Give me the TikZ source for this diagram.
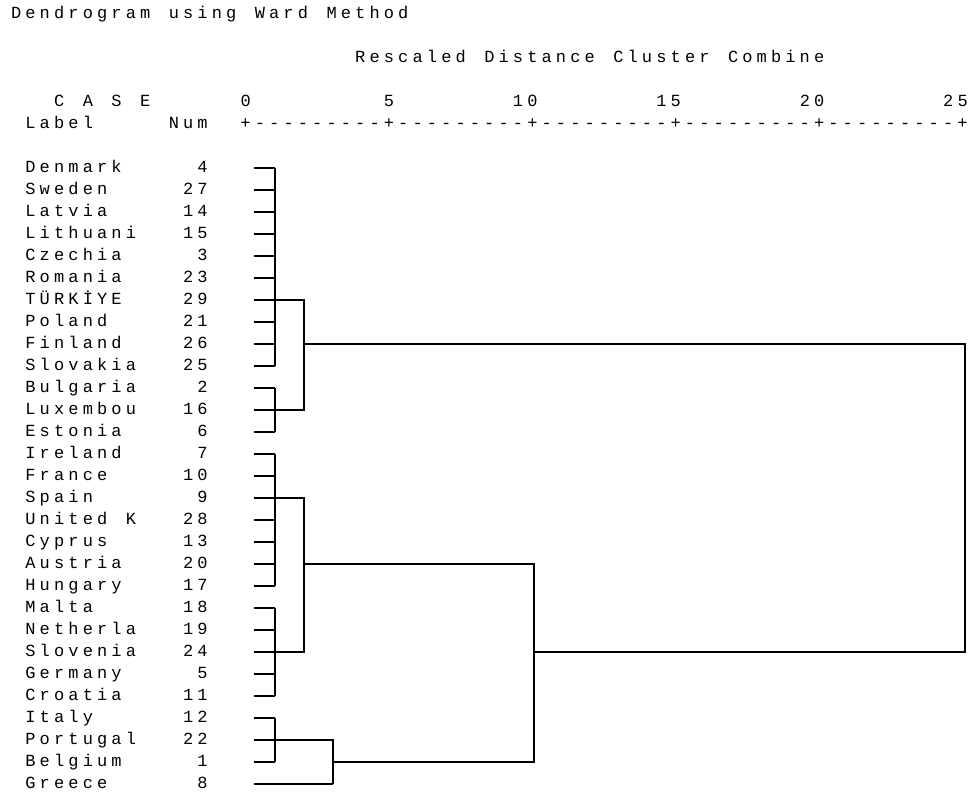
\documentclass[tikz,border=0pt]{standalone}
\usepackage{fontspec}
\newfontfamily\spssfont{Liberation Mono}
\makeatletter
\def\gt@end{\gt@end}
\newcommand\gtxt[1]{\gt@loop#1\gt@end}
\def\gt@loop#1{\ifx#1\gt@end\else\makebox[14.34pt][c]{#1}\expandafter\gt@loop\fi}
\makeatother
\tikzset{
  txt/.style={inner sep=0pt, outer sep=0pt, font=\spssfont\fontsize{17}{20}\selectfont},
  tree/.style={line width=1.1pt, black}
}
\begin{document}
\begin{tikzpicture}[x=1pt,y=-1pt]
\useasboundingbox (0,0) rectangle (976,798);
\fill[white] (0,0) rectangle (976,798);
\def\xo{9}
\def\cw{14.34}
% headers
\node[txt, anchor=base west] (title) at ({\xo+0*\cw},18.7) {\gtxt{Dendrogram~using~Ward~Method}};
\node[txt, anchor=base west] (resc) at ({\xo+24*\cw},62.7) {\gtxt{Rescaled~Distance~Cluster~Combine}};
\node[txt, anchor=base west] (case) at ({\xo+3*\cw},106.7) {\gtxt{C~A~S~E}};
\node[txt, anchor=base west] (t0) at ({\xo+16*\cw},106.7) {\gtxt{0}};
\node[txt, anchor=base west] (t5) at ({\xo+26*\cw},106.7) {\gtxt{5}};
\node[txt, anchor=base west] (t10) at ({\xo+35*\cw},106.7) {\gtxt{10}};
\node[txt, anchor=base west] (t15) at ({\xo+45*\cw},106.7) {\gtxt{15}};
\node[txt, anchor=base west] (t20) at ({\xo+55*\cw},106.7) {\gtxt{20}};
\node[txt, anchor=base west] (t25) at ({\xo+65*\cw},106.7) {\gtxt{25}};
\node[txt, anchor=base west] (lab) at ({\xo+1*\cw},128.7) {\gtxt{Label~~~~~Num~~+---------+---------+---------+---------+---------+}};
% leaves
\foreach \nm/\nu [count=\i from 0] in {Denmark/4, Sweden/27, Latvia/14, Lithuani/15, Czechia/3, Romania/23, TÜRKİYE/29, Poland/21, Finland/26, Slovakia/25, Bulgaria/2, Luxembou/16, Estonia/6, Ireland/7, France/10, Spain/9, United~K/28, Cyprus/13, Austria/20, Hungary/17, Malta/18, Netherla/19, Slovenia/24, Germany/5, Croatia/11, Italy/12, Portugal/22, Belgium/1, Greece/8}{
  \node[txt, anchor=base west] (n\i) at ({\xo+1*\cw},{172.7+22*\i}) {\expandafter\gtxt\expandafter{\nm}};
  \node[txt, anchor=base east] (m\i) at ({\xo+14*\cw},{172.7+22*\i}) {\expandafter\gtxt\expandafter{\nu}};
  \coordinate (l\i) at (254,{168+22*\i});
}
% leaf ticks
\foreach \i in {0,...,27}{ \draw[tree] (l\i) -- ++(21,0); }
\draw[tree] (l28) -- ++(79,0);
% first level clusters
\draw[tree] ([xshift=21pt]l0) -- ([xshift=21pt]l9);
\draw[tree] ([xshift=21pt]l10) -- ([xshift=21pt]l12);
\draw[tree] ([xshift=21pt]l13) -- ([xshift=21pt]l19);
\draw[tree] ([xshift=21pt]l20) -- ([xshift=21pt]l24);
\draw[tree] ([xshift=21pt]l25) -- ([xshift=21pt]l27);
% second level
\draw[tree] ([xshift=21pt]l6) -| ([xshift=50pt]l11) -- ([xshift=21pt]l11);
\draw[tree] ([xshift=21pt]l15) -| ([xshift=50pt]l22) -- ([xshift=21pt]l22);
\draw[tree] ([xshift=21pt]l26) -| ([xshift=79pt]l28);
% third level
\coordinate (jA) at ([xshift=50pt]l8);
\coordinate (jC) at ([xshift=50pt]l18);
\coordinate (jE) at ([xshift=79pt]l27);
\draw[tree] (jC) -- (534,{168+22*18}) coordinate (kC1) -- (534,{168+22*27}) coordinate (kC2) -- (jE);
\coordinate (jCE) at (534,{168+22*22});
\draw[tree] (jA) -- (965,{168+22*8}) coordinate (r1) -- (965,{168+22*22}) coordinate (r2) -- (jCE);
\end{tikzpicture}
\end{document}
